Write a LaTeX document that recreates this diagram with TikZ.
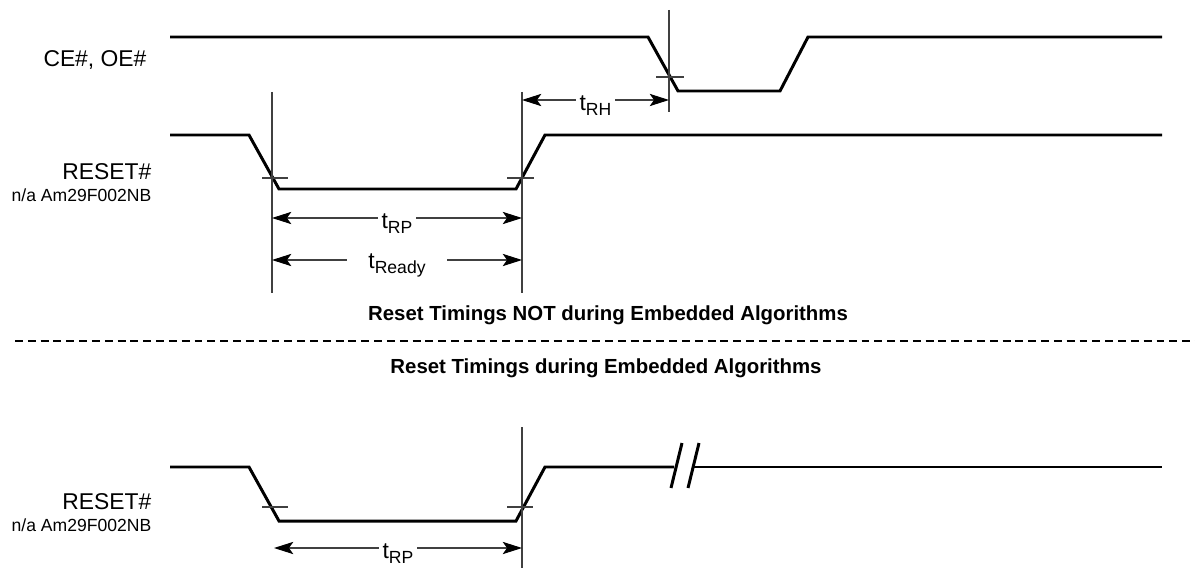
\documentclass[tikz,border=0pt]{standalone}
\usepackage{fontspec}
\setmainfont{Liberation Sans}
\usetikzlibrary{arrows.meta}
\tikzset{every picture/.style={line width=0.75pt}}

\newcommand{\tsig}[1]{t\raisebox{-2.8pt}{\fontsize{10}{10}\selectfont #1}}

\begin{document}
\begin{tikzpicture}[x=0.02cm,y=-0.02cm,
  signal/.style={line width=1.7pt},
  guide/.style={line width=0.6pt, black!75},
  dim/.style={line width=0.6pt, black!75, {Stealth[length=11pt,width=7pt,inset=2.5pt,black]}-{Stealth[length=11pt,width=7pt,inset=2.5pt,black]}},
  tlab/.style={fill=white, text=black, inner sep=2pt, font=\fontsize{13}{13}\selectfont, yshift=-3pt},
  sig/.style={anchor=base east, inner sep=0pt, font=\fontsize{13}{13}\selectfont},
  sub/.style={anchor=base east, inner sep=0pt, font=\fontsize{10}{10}\selectfont},
  title/.style={anchor=base, inner sep=0pt, font=\bfseries\fontsize{11.6}{12}\selectfont}]
\useasboundingbox (0,0) rectangle (1195,574);

% signal names
\node[sig] (ce) at (147,67) {CE\#, OE\#};
\node[sig] (rsta) at (152,179) {RESET\#};
\node[sub] (naa) at (152,201) {n/a Am29F002NB};
\node[sig] (rstb) at (152,509) {RESET\#};
\node[sub] (nab) at (152,531) {n/a Am29F002NB};

% headings and separator
\node[title] (hda) at (608,320) {Reset Timings NOT during Embedded Algorithms};
\node[title] (hdb) at (606,373) {Reset Timings during Embedded Algorithms};
\draw[line width=1.7pt, dash pattern=on 4.5pt off 2.8pt] (15,341) -- (1195,341);

% waveforms
\draw[signal] (170,37) -- (648,37) -- (678,91) -- (780,91) -- (808,37) -- (1162,37);
\draw[signal] (170,135) -- (249,135) -- (279,189) -- (516,189) -- (545,135) -- (1162,135);
\draw[signal] (170,467) -- (249,467) -- (279,521) -- (516,521) -- (545,467) -- (674,467);
\draw[signal] (694,467) -- (1162,467);
\draw[signal] (671,488) -- (682,443);
\draw[signal] (688,488) -- (699,443);

% reference lines and crossing marks
\coordinate (rpa) at (272,92);  \coordinate (rpb) at (272,293);
\coordinate (rha) at (522,92);  \coordinate (rhb) at (522,293);
\coordinate (cea) at (669,10);  \coordinate (ceb) at (669,112);
\coordinate (rsa) at (522,427); \coordinate (rsb) at (522,568);
\draw[guide] (rpa) -- (rpb);
\draw[guide] (rha) -- (rhb);
\draw[guide] (cea) -- (ceb);
\draw[guide] (rsa) -- (rsb);
\draw[guide] (656,77) -- (684,77);
\draw[guide] (262,178) -- (288,178);
\draw[guide] (507,178) -- (534,178);
\draw[guide] (262,507) -- (288,507);
\draw[guide] (507,507) -- (533,507);

% timing arrows
\coordinate (tRHa) at (522,100); \coordinate (tRHb) at (669,100);
\coordinate (tRPa) at (272,218); \coordinate (tRPb) at (522,218);
\coordinate (tRDa) at (272,260); \coordinate (tRDb) at (522,260);
\coordinate (tRPc) at (274,548); \coordinate (tRPd) at (522,548);
\draw[dim] (tRHa) -- node[tlab] {\tsig{RH}} (tRHb);
\draw[dim] (tRPa) -- node[tlab] {\tsig{RP}} (tRPb);
\draw[dim] (tRDa) -- node[tlab, inner xsep=12pt] {\tsig{Ready}} (tRDb);
\draw[dim] (tRPc) -- node[tlab] {\tsig{RP}} (tRPd);
\end{tikzpicture}
\end{document}
